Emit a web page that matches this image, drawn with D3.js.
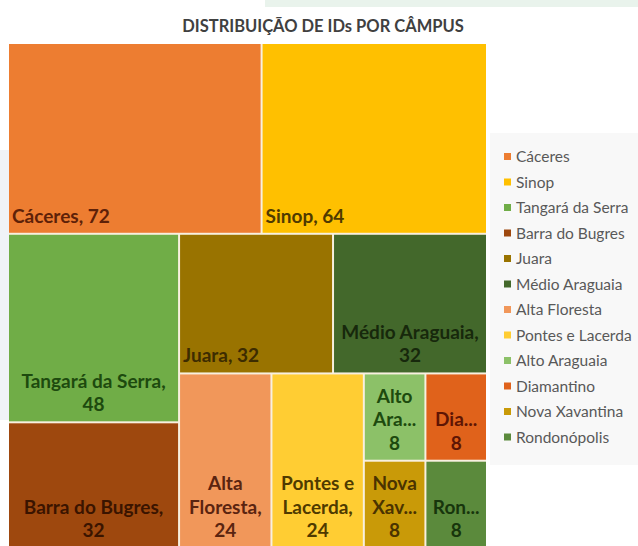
<!DOCTYPE html>
<html><head><meta charset="utf-8">
<script src="https://cdn.jsdelivr.net/npm/d3@7"></script>
<style>body{margin:0;background:#fff;} svg{display:block;}</style>
</head><body>
<svg id="chart" width="638" height="546"></svg>
<script>
const title = "DISTRIBUIÇÃO DE IDs POR CÂMPUS";
const categories = ["Cáceres","Sinop","Tangará da Serra","Barra do Bugres","Juara","Médio Araguaia","Alta Floresta","Pontes e Lacerda","Alto Araguaia","Diamantino","Nova Xavantina","Rondonópolis"];
const values = [72,64,48,32,32,32,24,24,8,8,8,8];
const colors = ["#ED7D31","#FFC000","#70AD47","#9E480E","#997300","#43682B","#F1975A","#FFCD33","#8CC168","#E0621B","#C99A08","#5B8A3C"];
const textColors = ["#5e2108","#4f3a00","#1d4a0e","#3a1400","#3d2c00","#17280c","#5a2410","#4f3a00","#1d4a0e","#5e1504","#4a3300","#17350c"];

const svg = d3.select("#chart");
const W = 638, H = 546;
const FONT = "Lato, 'Open Sans', sans-serif";

// background decorations
svg.append("rect").attr("x",0).attr("y",0).attr("width",W).attr("height",H).attr("fill","#ffffff");
svg.append("rect").attr("x",265).attr("y",0).attr("width",W-265).attr("height",7).attr("fill","#e9f3ec");
svg.append("rect").attr("x",0).attr("y",150).attr("width",9).attr("height",270).attr("fill","#f0f3f7");
svg.append("rect").attr("x",490).attr("y",133).attr("width",W-490).attr("height",332).attr("fill","#f8f8f8");

// title
svg.append("text").attr("x",323).attr("y",32).attr("text-anchor","middle")
  .attr("font-family",FONT).attr("font-weight","bold").attr("font-size",16.5)
  .attr("fill","#404040").text(title);

// treemap
const data = {name:"root", children: categories.map((c,i)=>({name:c, value:values[i], idx:i}))};
const root = d3.hierarchy(data).sum(d=>d.value||0).sort((a,b)=>b.value-a.value);
const x0 = 9, y0 = 44, x1 = 486, y1 = 547;
d3.treemap().tile(d3.treemapSquarify.ratio(1)).size([x1-x0, y1-y0]).paddingInner(2)(root);

const g = svg.append("g").attr("transform",`translate(${x0},${y0})`);
g.append("rect").attr("width",x1-x0).attr("height",y1-y0).attr("fill","#f8f0df");

const leaves = root.leaves();
const cells = g.selectAll("g.cell").data(leaves).join("g").attr("class","cell");
cells.append("rect")
  .attr("x",d=>d.x0).attr("y",d=>d.y0)
  .attr("width",d=>d.x1-d.x0).attr("height",d=>d.y1-d.y0)
  .attr("fill",d=>colors[d.data.idx]);

// measuring helper
const LFS = 19;
const meas = svg.append("text").attr("font-family",FONT).attr("font-weight","bold").attr("font-size",LFS).attr("visibility","hidden");
function tw(s){ meas.text(s); return meas.node().getComputedTextLength(); }

function wrap(label, w){
  const maxW = w - 5, truncW = w - 10;
  const words = label.split(" ");
  const lines = []; let cur = "";
  for (const wd of words){
    const test = cur ? cur + " " + wd : wd;
    if (tw(test) <= maxW){ cur = test; continue; }
    if (cur) lines.push(cur);
    cur = wd;
    if (tw(wd) > maxW){
      let p = wd.replace(/,$/,"");
      while (p.length > 1 && tw(p + "...") > truncW) p = p.slice(0,-1);
      lines.push(p + "...");
      cur = "";
    }
  }
  if (cur) lines.push(cur);
  return lines;
}

const LH = 23.5;
cells.each(function(d){
  const w = d.x1 - d.x0;
  const lines = wrap(d.data.name + ", " + d.data.value, w);
  const t = d3.select(this).append("text")
    .attr("font-family",FONT).attr("font-weight","bold").attr("font-size",LFS)
    .attr("fill",textColors[d.data.idx]);
  const single = lines.length === 1;
  const baseY = d.y1 - 10;
  lines.forEach((ln,i)=>{
    t.append("tspan")
      .attr("x", single ? d.x0 + 3 : (d.x0 + d.x1)/2)
      .attr("text-anchor", single ? "start" : "middle")
      .attr("y", baseY - (lines.length-1-i)*LH)
      .text(ln);
  });
});
meas.remove();

// legend
const lg = svg.append("g").attr("transform","translate(504,157)");
const items = lg.selectAll("g").data(categories).join("g")
  .attr("transform",(d,i)=>`translate(0,${i*25.5})`);
items.append("rect").attr("x",0).attr("y",-4).attr("width",7).attr("height",7)
  .attr("fill",(d,i)=>colors[i]);
items.append("text").attr("x",12).attr("y",5)
  .attr("font-family",FONT).attr("font-size",15.5).attr("fill","#595959").text(d=>d);
</script>
</body></html>
